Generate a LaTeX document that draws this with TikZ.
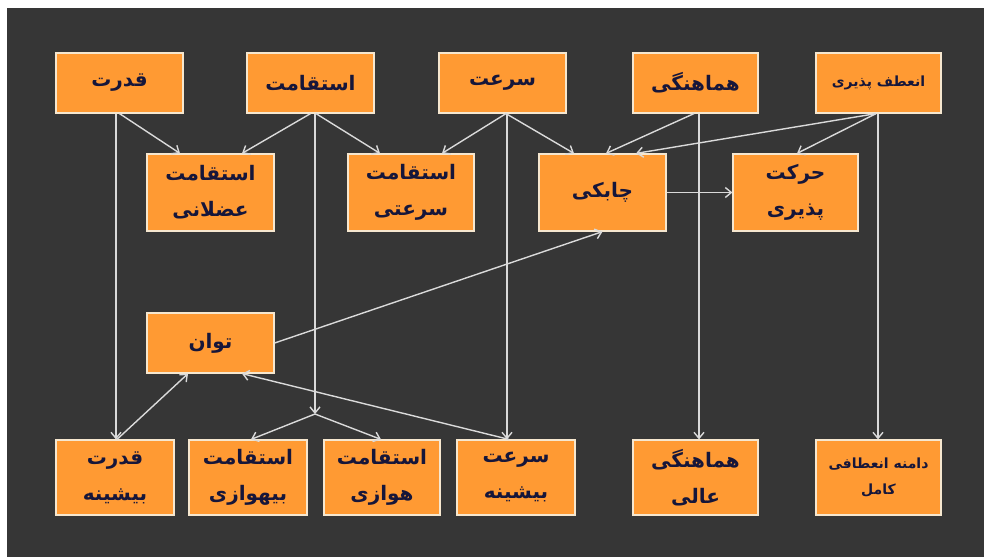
\documentclass[tikz,border=0pt]{standalone}
\usepackage{fontspec}
\usetikzlibrary{arrows.meta,calc}
\TeXXeTstate=1
\newfontfamily\farsi[Script=Arabic]{DejaVu Sans}
\newcommand{\fa}[1]{\beginR #1\endR}
\definecolor{bgdark}{HTML}{363636}
\definecolor{boxfill}{HTML}{FF9A33}
\definecolor{boxline}{HTML}{F6E7CF}
\definecolor{arrowcol}{HTML}{DADADA}
\definecolor{txtcol}{HTML}{16163A}
\tikzset{
  box/.style={draw=boxline, line width=1.2pt, fill=boxfill, inner sep=0pt,
    minimum height=60pt, align=center, text=txtcol,
    font=\farsi\bfseries\fontsize{20}{36}\selectfont},
  tallbox/.style={box, minimum height=77pt},
  lowbox/.style={box, minimum height=75pt},
  smalltext/.style={font=\farsi\bfseries\fontsize{14}{26}\selectfont},
  link/.style={draw=arrowcol, line width=1.4pt, -{Straight Barb[length=6pt,width=10pt]}}
}
\begin{document}
\begin{tikzpicture}[x=1pt,y=-1pt]
\useasboundingbox (0,0) rectangle (984,557);
\fill[white] (0,0) rectangle (984,557);
\fill[bgdark] (7,8) rectangle (984,557);
% top row
\node[box, minimum width=127pt] (qodrat) at (119.5,83) {\fa{قدرت}};
\node[box, minimum width=127pt] (esteq) at (310.5,83) {\fa{استقامت}};
\node[box, minimum width=127pt] (sorat) at (502.5,83) {\fa{سرعت}};
\node[box, minimum width=125pt] (hamah) at (695.5,83) {\fa{هماهنگی}};
\node[box, smalltext, minimum width=125pt] (enetaf) at (878.5,83) {\fa{انعطف پذیری}};
% second row
\node[tallbox, minimum width=127pt] (azolani) at (210.5,192.5) {\fa{استقامت}\\\fa{عضلانی}};
\node[tallbox, minimum width=126pt] (sorati) at (411,192.5) {\fa{استقامت}\\\fa{سرعتی}};
\node[tallbox, minimum width=127pt] (chaboki) at (602.5,192.5) {\fa{چابکی}};
\node[tallbox, minimum width=125pt] (harakat) at (795.5,192.5) {\fa{حرکت}\\\fa{پذیری}};
% middle
\node[box, minimum width=127pt] (tavan) at (210.5,343) {\fa{توان}};
% bottom row
\node[lowbox, minimum width=118pt] (qbish) at (115,477.5) {\fa{قدرت}\\\fa{بیشینه}};
\node[lowbox, minimum width=118pt] (bihav) at (248,477.5) {\fa{استقامت}\\\fa{بیهوازی}};
\node[lowbox, minimum width=116pt] (havazi) at (382,477.5) {\fa{استقامت}\\\fa{هوازی}};
\node[lowbox, minimum width=118pt] (sbish) at (516,477.5) {\fa{سرعت}\\\fa{بیشینه}};
\node[lowbox, minimum width=125pt] (hamali) at (695.5,477.5) {\fa{هماهنگی}\\\fa{عالی}};
\node[lowbox, smalltext, minimum width=125pt] (damane) at (878.5,477.5) {\fa{دامنه انعطافی}\\\fa{کامل}};
\coordinate (junc) at (315,414);
% connectors from qodrat
\draw[link] ([xshift=-3.5pt]qodrat.south) -- ([xshift=-3.5pt]qodrat.south |- qbish.north);
\draw[link] (qodrat.south) -- ([xshift=-30.5pt]azolani.north);
% from esteqamat
\draw[link] (esteq.south) -- ([xshift=31.5pt]azolani.north);
\draw[link] ([xshift=5.5pt]esteq.south) -- ([xshift=-31pt]sorati.north);
\draw[link] ([xshift=4.5pt]esteq.south) -- (junc);
\draw[link] (junc) -- ([xshift=3pt]bihav.north);
\draw[link] (junc) -- ([xshift=-1pt]havazi.north);
% from sorat
\draw[link] ([xshift=3.5pt]sorat.south) -- ([xshift=31pt]sorati.north);
\draw[link] ([xshift=3.5pt]sorat.south) -- ([xshift=-28.5pt]chaboki.north);
\draw[link] ([xshift=4.5pt]sorat.south) -- ([xshift=4.5pt]sorat.south |- sbish.north);
% from hamahangi
\draw[link] ([xshift=-1.5pt]hamah.south) -- ([xshift=3.5pt]chaboki.north);
\draw[link] ([xshift=3.5pt]hamah.south) -- ([xshift=3.5pt]hamah.south |- hamali.north);
% from enetaf
\draw[link] ([xshift=-2.5pt]enetaf.south) -- ([xshift=33.5pt]chaboki.north);
\draw[link] ([xshift=-2.5pt]enetaf.south) -- ([xshift=1.5pt]harakat.north);
\draw[link] ([xshift=-0.5pt]enetaf.south) -- ([xshift=-0.5pt]enetaf.south |- damane.north);
% chaboki to harakat
\draw[link] (chaboki.east) -- (harakat.west);
% tavan
\draw[link] (tavan.east) -- (chaboki.south);
\draw[link] ([xshift=2pt]qbish.north) -- ([xshift=-22.5pt]tavan.south);
\draw[link] ([xshift=-7pt]sbish.north) -- ([xshift=31.5pt]tavan.south);
\end{tikzpicture}
\end{document}
